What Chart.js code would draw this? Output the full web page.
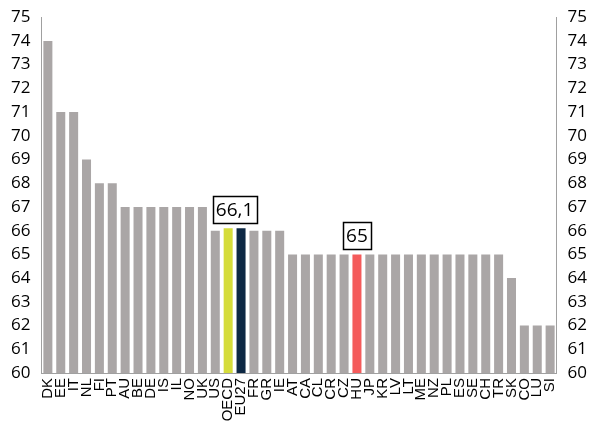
<!DOCTYPE html>
<html>
<head>
<meta charset="utf-8">
<script src="https://cdn.jsdelivr.net/npm/chart.js@4.4.0/dist/chart.umd.min.js"></script>
<style>
  html, body { margin: 0; padding: 0; background: #fff; }
  #wrap { width: 599px; height: 435px; }
</style>
</head>
<body>
<div id="wrap"><canvas id="chart" width="599" height="435"></canvas></div>
<script>
const countries = ["DK", "EE", "IT", "NL", "FI", "PT", "AU", "BE", "DE", "IS", "IL", "NO", "UK", "US",
  "OECD", "EU27", "FR", "GR", "IE", "AT", "CA", "CL", "CR", "CZ", "HU", "JP", "KR", "LV", "LT", "ME",
  "NZ", "PL", "ES", "SE", "CH", "TR", "SK", "CO", "LU", "SI"];
const values = [74, 71, 71, 69, 68, 68, 67, 67, 67, 67, 67, 67, 67, 66,
  66.1, 66.1, 66, 66, 66, 65, 65, 65, 65, 65, 65, 65, 65, 65, 65, 65,
  65, 65, 65, 65, 65, 65, 64, 62, 62, 62];
// highlighted bars
const highlight = { OECD: "#d5dc3a", EU27: "#0d2844", HU: "#f45b5b" };
const callouts = [
  { from: "OECD", to: "EU27", text: "66,1" },
  { from: "HU", to: "HU", text: "65" }
];

const barColors = countries.map(c => highlight[c] || "#aaa6a6");

const calloutPlugin = {
  id: "callouts",
  afterDatasetsDraw(chart) {
    const { ctx, scales } = chart;
    ctx.save();
    ctx.font = "19px 'Open Sans', sans-serif";
    ctx.textAlign = "center";
    ctx.textBaseline = "middle";
    callouts.forEach(c => {
      const i1 = countries.indexOf(c.from);
      const i2 = countries.indexOf(c.to);
      const x = (scales.x.getPixelForValue(i1) + scales.x.getPixelForValue(i2)) / 2;
      const top = scales.y.getPixelForValue(Math.max(values[i1], values[i2]));
      const w = ctx.measureText(c.text).width + 6;
      const h = 27;
      const y = top - 5 - h;
      ctx.fillStyle = "#fff";
      ctx.fillRect(x - w / 2, y, w, h);
      ctx.strokeStyle = "#000";
      ctx.lineWidth = 1.5;
      ctx.strokeRect(Math.round(x - w / 2) + 0.5, Math.round(y) + 0.5, Math.round(w), h);
      ctx.fillStyle = "#000";
      ctx.fillText(c.text, x, y + h / 2 + 1);
    });
    ctx.restore();
  }
};

const yTicks = {
  stepSize: 1,
  color: "#000",
  padding: 7,
  font: { family: "'Open Sans', sans-serif", size: 17 }
};
const yGrid = { display: false, drawTicks: true, tickLength: 4, tickColor: "#a0a0a0" };
const yBorder = { display: true, color: "#a0a0a0", width: 1 };

new Chart(document.getElementById("chart"), {
  type: "bar",
  data: {
    labels: countries,
    datasets: [{
      data: values,
      backgroundColor: barColors,
      barPercentage: 0.7,
      categoryPercentage: 1.0,
      yAxisID: "y"
    }]
  },
  options: {
    responsive: false,
    animation: false,
    layout: { padding: { top: 5, right: 5, left: 4, bottom: 0 } },
    plugins: { legend: { display: false }, tooltip: { enabled: false } },
    scales: {
      x: {
        grid: { display: false, drawTicks: false },
        border: { display: true, color: "#a0a0a0" },
        afterFit(scale) { scale.height = 62; },
        ticks: {
          color: "#000",
          autoSkip: false,
          maxRotation: 90,
          minRotation: 90,
          padding: 5,
          font: { family: "'Liberation Sans', Arial, sans-serif", size: 15 }
        }
      },
      y: {
        position: "left",
        min: 60, max: 75,
        ticks: yTicks,
        grid: yGrid,
        border: yBorder
      },
      y2: {
        position: "right",
        min: 60, max: 75,
        ticks: yTicks,
        grid: yGrid,
        border: yBorder
      }
    }
  },
  plugins: [calloutPlugin]
});
</script>
</body>
</html>
